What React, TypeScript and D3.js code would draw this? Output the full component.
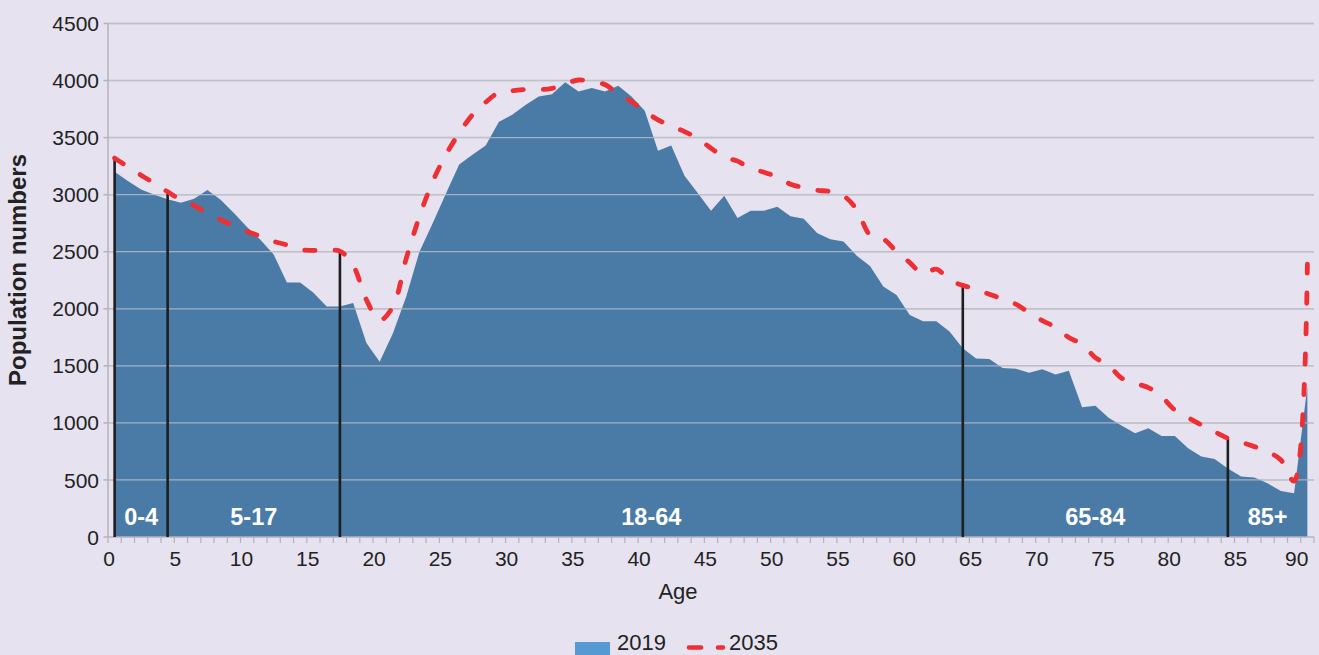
import React, { useLayoutEffect, useRef } from "react";
import * as d3 from "d3";

// ---------- data ----------
const ages: number[] = Array.from({ length: 91 }, (_, i) => i);

const pop2019: number[] = [
  3200, 3120, 3045, 3000, 2960, 2930, 2965, 3040, 2955, 2840,
  2715, 2605, 2475, 2230, 2230, 2140, 2020, 2020, 2050, 1700,
  1535, 1785, 2105, 2500, 2750, 3010, 3265, 3350, 3430, 3640,
  3700, 3785, 3860, 3880, 3985, 3905, 3935, 3905, 3955, 3860,
  3735, 3385, 3430, 3165, 3015, 2860, 2990, 2795, 2860, 2860,
  2895, 2810, 2790, 2665, 2610, 2590, 2465, 2375, 2195, 2120,
  1945, 1890, 1890, 1800, 1655, 1565, 1560, 1480, 1475, 1440,
  1470, 1425, 1458, 1138, 1150, 1045, 975, 910, 953, 885,
  885, 778, 705, 684, 600, 530, 522, 470, 403, 383,
  1318,
];

const pop2035: number[] = [
  3320, 3245, 3170, 3100, 3025, 2955, 2905, 2835, 2780, 2728,
  2678, 2635, 2590, 2560, 2518, 2512, 2510, 2505, 2380, 2078,
  1900, 2020, 2440, 2808, 3115, 3350, 3540, 3700, 3810, 3895,
  3910, 3922, 3920, 3932, 3970, 4005, 3990, 3965, 3882, 3816,
  3730, 3656, 3599, 3553, 3492, 3407, 3329, 3294, 3229, 3197,
  3154, 3092, 3062, 3039, 3027, 2990, 2868, 2647, 2612, 2501,
  2405, 2306, 2347, 2253, 2205, 2171, 2128, 2086, 2040, 1966,
  1896, 1838, 1748, 1689, 1572, 1505, 1391, 1347, 1309, 1230,
  1113, 1046, 982, 923, 865, 830, 792, 748, 675, 490,
  2390,
];

const yTicks: number[] = [0, 500, 1000, 1500, 2000, 2500, 3000, 3500, 4000, 4500];
const xTickLabels: number[] = [0, 5, 10, 15, 20, 25, 30, 35, 40, 45, 50, 55, 60, 65, 70, 75, 80, 85, 90];

const groupBounds: number[] = [0, 4, 17, 64, 84, 90];
const groupLabels: string[] = ["0-4", "5-17", "18-64", "65-84", "85+"];
const dropLineAges: number[] = [0, 4, 17, 64, 84];

const seriesNames: string[] = ["2019", "2035"];

// ---------- layout ----------
const W = 1319;
const H = 655;
const left = 108;
const right = 1314;
const top = 23.5;
const bottom = 537;

const FONT = "'Liberation Sans', Arial, Helvetica, sans-serif";
const BG = "#e6e2f0";
const BLUE = "#4a7ba7";
const LEGEND_BLUE = "#5699d3";
const RED = "#ee3034";
const GRID = "#bdbbc4";
const AXIS = "#b4b2ba";
const TEXT = "#222222";

export default function App() {
  const redRef = useRef<SVGPathElement | null>(null);

  const x = d3.scaleBand<number>().domain(ages).range([left, right]).padding(0);
  const bw = x.bandwidth();
  const cx = (a: number) => (x(a) as number) + bw / 2;
  const y = d3.scaleLinear().domain([0, 4500]).range([bottom, top]);

  const area = d3
    .area<number>()
    .x((_, i) => cx(ages[i]))
    .y0(y(0))
    .y1((d) => y(d))
    .curve(d3.curveLinear);

  const line = d3
    .line<number>()
    .x((_, i) => cx(ages[i]))
    .y((d) => y(d))
    .curve(d3.curveCatmullRom.alpha(0.5));

  const boundaryTicks = d3.range(0, ages.length + 1).map((k) => left + k * bw);

  // fit the dash period so the line starts on a dash and ends on a dash
  useLayoutEffect(() => {
    const p = redRef.current;
    if (!p) return;
    const L = p.getTotalLength();
    const frac = 0.34;
    const n = Math.max(1, Math.round(L / 30.5 - frac));
    const period = L / (n + frac);
    const dash = period * frac;
    p.setAttribute("stroke-dasharray", `${dash} ${period - dash}`);
  }, []);

  return (
    <svg
      width={W}
      height={H}
      style={{ position: "absolute", left: 0, top: 0, display: "block" }}
      fontFamily={FONT}
    >
      <rect x={0} y={0} width={W} height={H} fill={BG} />

      {/* gridlines (behind) */}
      {yTicks.slice(1).map((t) => (
        <line key={"g" + t} x1={left} x2={right} y1={y(t)} y2={y(t)} stroke={GRID} strokeWidth={1.5} />
      ))}

      {/* 2019 area */}
      <path d={area(pop2019) || ""} fill={BLUE} />

      {/* gridlines visible over the area */}
      {yTicks.slice(1).map((t) => (
        <line key={"go" + t} x1={left} x2={right} y1={y(t)} y2={y(t)} stroke="#c2c4cc" strokeOpacity={0.75} strokeWidth={1.3} />
      ))}

      {/* axes */}
      <line x1={left} x2={left} y1={top} y2={bottom} stroke={AXIS} strokeWidth={1.5} />
      <line x1={left} x2={right} y1={bottom} y2={bottom} stroke={AXIS} strokeWidth={1.5} />
      {yTicks.map((t) => (
        <line key={"yt" + t} x1={left - 4.5} x2={left} y1={y(t)} y2={y(t)} stroke={AXIS} strokeWidth={1.5} />
      ))}
      {boundaryTicks.map((bx, k) => (
        <line key={"xt" + k} x1={bx} x2={bx} y1={bottom} y2={bottom + 6} stroke={AXIS} strokeWidth={1.2} />
      ))}

      {/* y tick labels */}
      {yTicks.map((t) => (
        <text key={"yl" + t} x={99} y={y(t)} dy="0.36em" textAnchor="end" fontSize={21} fill={TEXT}>
          {t}
        </text>
      ))}

      {/* x tick labels */}
      {xTickLabels.map((a) => (
        <text
          key={"xl" + a}
          x={(x(a) as number) + (a === 90 ? -4 : 1)}
          y={566}
          textAnchor="middle"
          fontSize={21}
          fill={TEXT}
        >
          {a}
        </text>
      ))}

      {/* drop lines at age-group boundaries */}
      {dropLineAges.map((a) => (
        <line
          key={"dl" + a}
          x1={cx(a)}
          x2={cx(a)}
          y1={y(0)}
          y2={y(pop2035[a])}
          stroke="#1e1e1e"
          strokeWidth={2.6}
        />
      ))}

      {/* group labels */}
      {groupLabels.map((g, i) => {
        const a0 = groupBounds[i];
        const a1 = groupBounds[i + 1];
        const mid = (cx(a0) + cx(a1)) / 2;
        return (
          <text key={"gl" + g} x={mid} y={525} textAnchor="middle" fontSize={23.5} fontWeight="bold" fill="#ffffff">
            {g}
          </text>
        );
      })}

      {/* 2035 dashed line */}
      <path
        ref={redRef}
        d={line(pop2035) || ""}
        fill="none"
        stroke={RED}
        strokeWidth={4.8}
        strokeDasharray="10 20"
        strokeLinecap="round"
        strokeLinejoin="round"
      />

      {/* axis titles */}
      <text
        transform={`translate(26, 270) rotate(-90)`}
        textAnchor="middle"
        fontSize={24}
        fontWeight="bold"
        fill={TEXT}
      >
        Population numbers
      </text>
      <text x={678} y={599} textAnchor="middle" fontSize={22} fill={TEXT}>
        Age
      </text>

      {/* legend */}
      <rect x={575} y={642} width={35} height={13} fill={LEGEND_BLUE} />
      <text x={617} y={649.5} fontSize={22} fill={TEXT}>
        {seriesNames[0]}
      </text>
      <line
        x1={689}
        x2={723}
        y1={647.5}
        y2={647.5}
        stroke={RED}
        strokeWidth={4.6}
        strokeDasharray="12 17"
        strokeLinecap="round"
      />
      <text x={729} y={649.5} fontSize={22} fill={TEXT}>
        {seriesNames[1]}
      </text>
    </svg>
  );
}
